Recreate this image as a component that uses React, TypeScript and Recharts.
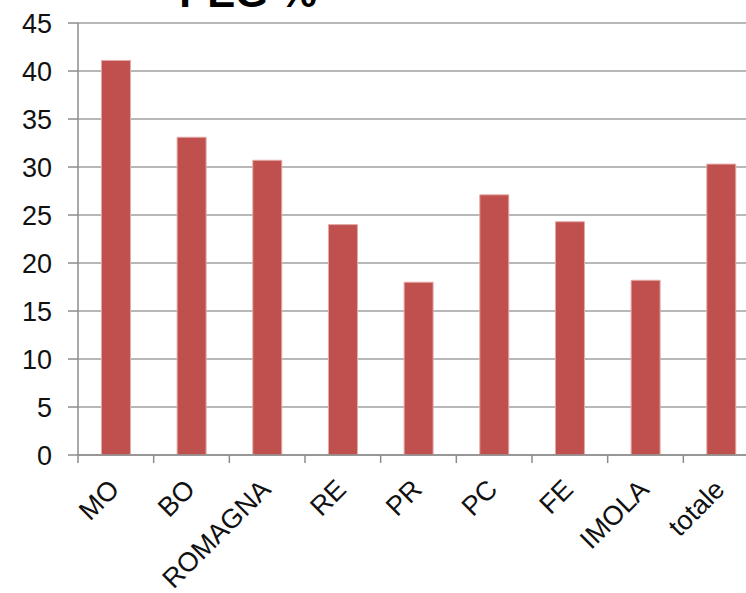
import React from "react";
import { BarChart, Bar, XAxis, YAxis, CartesianGrid } from "recharts";

const categories = ["MO", "BO", "ROMAGNA", "RE", "PR", "PC", "FE", "IMOLA", "totale"];
const pegValues = [41.1, 33.1, 30.7, 24.0, 18.0, 27.1, 24.3, 18.2, 30.3];
const yTicks = [0, 5, 10, 15, 20, 25, 30, 35, 40, 45];

const data = categories.map((name, i) => ({ name, value: pegValues[i] }));

const FONT = "'Liberation Sans', Arial, sans-serif";
const AXIS_GRAY = "#8c8c8c";

const CHART_W = 780;
const CHART_H = 593;
const MARGIN = { top: 23, right: 21, left: 0, bottom: 0 };
const Y_AXIS_W = 78;
const X_AXIS_H = 138;
const BAND = (CHART_W - MARGIN.right - Y_AXIS_W) / categories.length;

// category label rotated 45°, plus a tick mark on the left boundary of each band
const CategoryTick = (props: any) => {
  const { x, y, payload } = props;
  const left = x - BAND / 2;
  return (
    <g>
      <line x1={left} y1={y} x2={left} y2={y + 8} stroke={AXIS_GRAY} strokeWidth={1.5} />
      <g transform={`translate(${x + 5},${y + 36})`}>
        <text
          textAnchor="end"
          transform="rotate(-45)"
          fontSize={27}
          fontFamily={FONT}
          fill="#111"
        >
          {payload.value}
        </text>
      </g>
    </g>
  );
};

export default function App() {
  return (
    <div
      style={{
        position: "absolute",
        top: 0,
        left: 0,
        width: 746,
        height: 593,
        overflow: "hidden",
        background: "#fff",
      }}
    >
      <BarChart width={CHART_W} height={CHART_H} data={data} margin={MARGIN} barCategoryGap="31%">
        <CartesianGrid vertical={false} stroke="#a0a0a0" strokeWidth={1.5} />
        <XAxis
          dataKey="name"
          height={X_AXIS_H}
          interval={0}
          tickSize={0}
          tickMargin={0}
          tickLine={false}
          axisLine={{ stroke: AXIS_GRAY, strokeWidth: 1.5 }}
          tick={<CategoryTick />}
        />
        <YAxis
          width={Y_AXIS_W}
          domain={[0, 45]}
          ticks={yTicks}
          interval={0}
          tickSize={10}
          tickMargin={16}
          axisLine={{ stroke: AXIS_GRAY, strokeWidth: 1.5 }}
          tickLine={{ stroke: AXIS_GRAY, strokeWidth: 1.5 }}
          tick={{ fontSize: 27, fontFamily: FONT, fill: "#111" }}
        />
        <Bar
          dataKey="value"
          fill="#c0504d"
          stroke="#e3aaa8"
          strokeWidth={1}
          isAnimationActive={false}
        />
      </BarChart>
      {/* chart title sits above the frame and is clipped at the top edge */}
      <svg
        width={746}
        height={40}
        style={{ position: "absolute", top: 0, left: 0, pointerEvents: "none" }}
      >
        <text x={248} y={7} textAnchor="middle" fontSize={42} fontWeight="bold" fontFamily={FONT} fill="#000">
          PEG %
        </text>
      </svg>
    </div>
  );
}
